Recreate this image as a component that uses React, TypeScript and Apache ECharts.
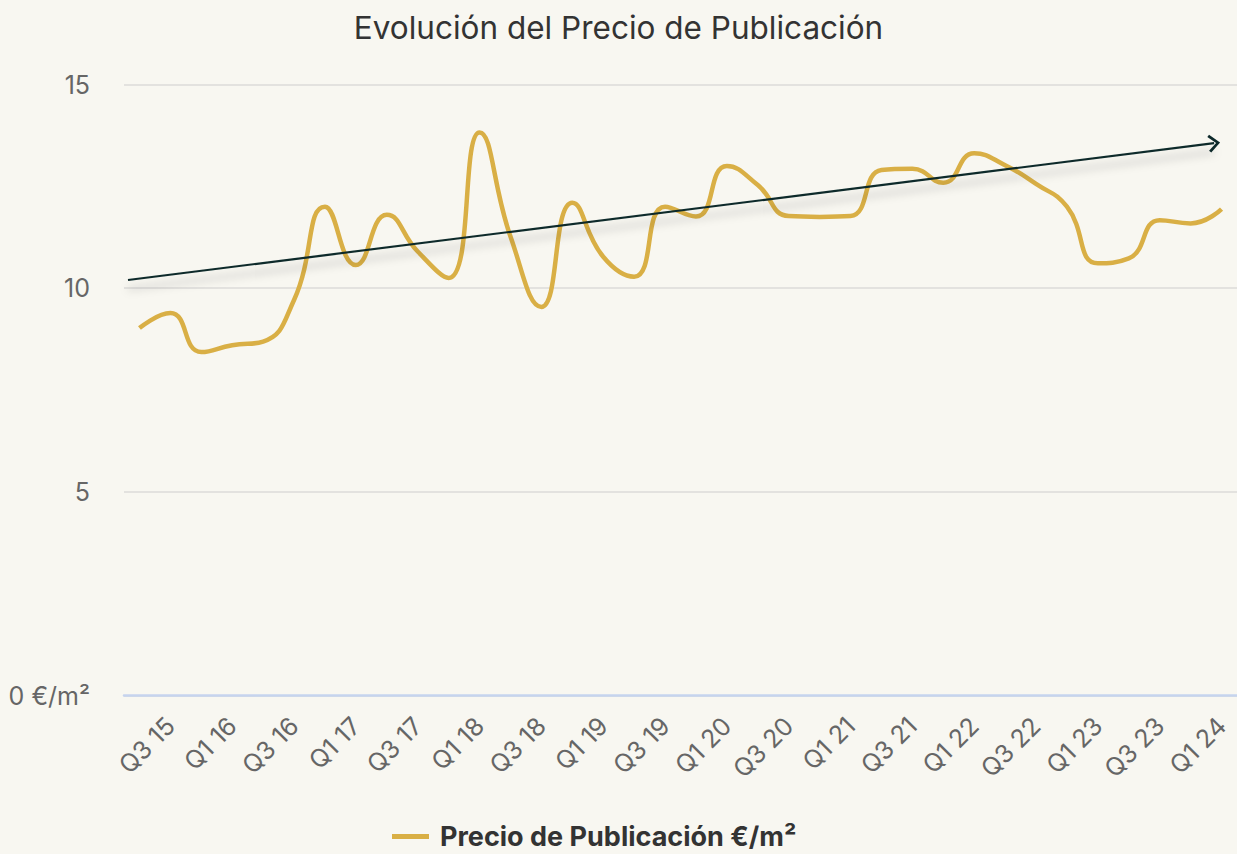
import React, { useEffect, useRef } from "react";
import * as echarts from "echarts";

const categories = [
  "Q2 15", "Q3 15", "Q4 15",
  "Q1 16", "Q2 16", "Q3 16", "Q4 16",
  "Q1 17", "Q2 17", "Q3 17", "Q4 17",
  "Q1 18", "Q2 18", "Q3 18", "Q4 18",
  "Q1 19", "Q2 19", "Q3 19", "Q4 19",
  "Q1 20", "Q2 20", "Q3 20", "Q4 20",
  "Q1 21", "Q2 21", "Q3 21", "Q4 21",
  "Q1 22", "Q2 22", "Q3 22", "Q4 22",
  "Q1 23", "Q2 23", "Q3 23", "Q4 23",
  "Q1 24",
];

const precio = [
  9.02, 9.39, 8.43, 8.6, 8.69, 9.71, 12.0, 10.57, 11.8, 10.9, 10.25, 13.82,
  11.27, 9.54, 12.1, 10.77, 10.28, 12.0, 11.76, 13.0, 12.53, 11.77, 11.75, 11.77,
  12.9, 12.93, 12.59, 13.31, 13.02, 12.56, 12.0, 10.61, 10.73, 11.67, 11.59, 11.94,
];

// trend arrow: [x position on category index scale, value]
const trendStart = [-0.37, 10.2];
const trendEnd = [34.76, 13.56];

const yTicks = [0, 5, 10, 15];

const chevron = "path://M0,10 L9,0 L18,10 L16,12 L9,4 L2,12 Z";

export default function App() {
  const ref = useRef<HTMLDivElement>(null);
  useEffect(() => {
    if (!ref.current) return;
    const chart = echarts.init(ref.current, null, { renderer: "svg" });
    const font = "Inter, 'Noto Sans', sans-serif";
    chart.setOption({
      animation: false,
      backgroundColor: "#f8f7f1",
      textStyle: { fontFamily: font },
      title: {
        text: "Evolución del Precio de Publicación",
        left: "center",
        top: 6,
        textStyle: { fontFamily: font, fontSize: 31.5, fontWeight: 400, color: "#333" },
      },
      legend: {
        left: 392,
        top: 823,
        padding: 0,
        icon: "rect",
        itemWidth: 37,
        itemHeight: 5,
        data: ["Precio de Publicación €/m²"],
        textStyle: {
          fontFamily: font,
          fontSize: 27,
          lineHeight: 26,
          fontWeight: 700,
          color: "#333",
          padding: [0, 0, 0, 6],
        },
      },
      grid: { left: 124, top: 84.5, width: 1116, height: 611 },
      xAxis: [
        {
          type: "category",
          data: categories,
          boundaryGap: true,
          axisLine: { lineStyle: { color: "#c6d4ee", width: 2.5 } },
          axisTick: { show: false },
          axisLabel: {
            interval: (i: number) => i % 2 === 1,
            rotate: 45,
            margin: 26,
            color: "#666",
            fontSize: 25,
            fontFamily: font,
          },
        },
        { type: "value", min: -0.5, max: 35.5, show: false },
      ],
      yAxis: {
        type: "value",
        min: yTicks[0],
        max: yTicks[yTicks.length - 1],
        interval: 5,
        axisLine: { show: false },
        axisTick: { show: false },
        splitLine: { lineStyle: { color: "#e3e2df", width: 2 } },
        axisLabel: {
          margin: 34,
          color: "#666",
          fontSize: 25,
          fontFamily: font,
          formatter: (v: number) => (v === 0 ? "0 €/m²" : String(v)),
        },
      },
      series: [
        {
          name: "Precio de Publicación €/m²",
          type: "line",
          data: precio,
          smooth: true,
          showSymbol: false,
          lineStyle: { color: "#d9af45", width: 4.5 },
          itemStyle: { color: "#d9af45" },
        },
        {
          name: "trend",
          type: "line",
          xAxisIndex: 1,
          data: [],
          silent: true,
          markLine: {
            silent: true,
            symbol: ["none", chevron],
            symbolSize: [18, 12],
            label: { show: false },
            lineStyle: {
              color: "#0e2a2b",
              width: 2.2,
              type: "solid",
              shadowColor: "rgba(0,0,0,0.28)",
              shadowBlur: 8,
              shadowOffsetY: 9,
            },
            data: [[{ coord: trendStart }, { coord: trendEnd }]],
          },
        },
      ],
    });
    return () => chart.dispose();
  }, []);
  return (
    <div
      ref={ref}
      style={{ position: "absolute", left: 0, top: 0, width: 1237, height: 854 }}
    />
  );
}
